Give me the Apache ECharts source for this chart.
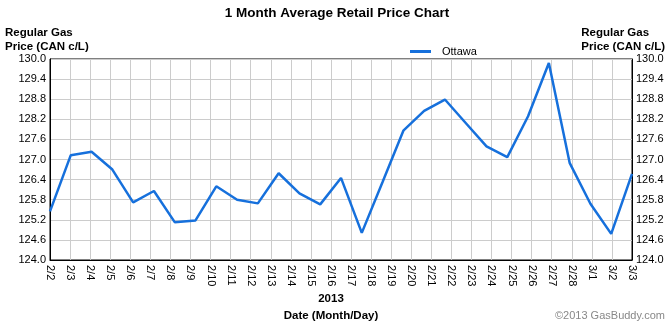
<!DOCTYPE html>
<html>
<head>
<meta charset="utf-8">
<title>1 Month Average Retail Price Chart</title>
<script src="https://cdn.jsdelivr.net/npm/echarts@6/dist/echarts.min.js"></script>
<style>
  html, body { margin: 0; padding: 0; background: #fff; }
  #chart { width: 670px; height: 325px; }
</style>
</head>
<body>
<div id="chart"></div>
<script>
// Date labels along the bottom axis (Month/Day, 2013)
const dayLabels = [
  '2/2', '2/3', '2/4', '2/5', '2/6', '2/7', '2/8', '2/9', '2/10', '2/11',
  '2/12', '2/13', '2/14', '2/15', '2/16', '2/17', '2/18', '2/19', '2/20', '2/21',
  '2/22', '2/23', '2/24', '2/25', '2/26', '2/27', '2/28', '3/1', '3/2', '3/3'
];

// Ottawa average regular gas price samples (CAN c/L), evenly spaced over the period
const ottawaPrices = [
  125.45, 127.13, 127.23, 126.70, 125.72, 126.06, 125.13, 125.18, 126.20, 125.80,
  125.69, 126.59, 125.99, 125.66, 126.45, 124.81, 126.33, 127.86, 128.45, 128.79,
  128.09, 127.39, 127.07, 128.29, 129.88, 126.90, 125.68, 124.78, 126.57
];

// Price axis range and tick step
const priceMin = 124.0;
const priceMax = 130.0;
const priceStep = 0.6;

const seriesName = 'Ottawa';
const yearLabel = '2013';

const FONT = '"Liberation Sans", Arial, sans-serif';
const LINE_BLUE = '#1670dc';

const chart = echarts.init(document.getElementById('chart'), null, { renderer: 'canvas' });

const priceAxis = (position) => ({
  type: 'value',
  position: position,
  min: priceMin,
  max: priceMax,
  interval: priceStep,
  axisLine: { show: true, lineStyle: { color: '#000', width: 1 } },
  axisTick: { show: false },
  axisLabel: {
    color: '#000',
    fontFamily: FONT,
    fontSize: 11,
    margin: 4,
    formatter: (v) => v.toFixed(1)
  },
  splitLine: { show: position === 'left', lineStyle: { color: '#cccccc', width: 1 } }
});

chart.setOption({
  backgroundColor: '#ffffff',
  animation: false,
  title: {
    text: '1 Month Average Retail Price Chart',
    left: 337,
    textAlign: 'center',
    top: 6,
    padding: 0,
    textStyle: { fontFamily: FONT, fontSize: 13.5, fontWeight: 'bold', color: '#000' }
  },
  legend: {
    data: [seriesName],
    left: 410,
    top: 46,
    padding: 0,
    icon: 'rect',
    itemWidth: 21,
    itemHeight: 3,
    itemGap: 10,
    textStyle: { fontFamily: FONT, fontSize: 11, color: '#000', padding: [0, 0, 0, 6] }
  },
  grid: {
    left: 50,
    right: 38,
    top: 59,
    bottom: 65,
    show: true,
    borderColor: '#000',
    borderWidth: 1,
    backgroundColor: 'transparent'
  },
  xAxis: [
    {
      type: 'category',
      data: dayLabels,
      boundaryGap: false,
      axisLine: { show: true, lineStyle: { color: '#000' } },
      axisTick: { show: false },
      axisLabel: {
        color: '#000',
        fontFamily: FONT,
        fontSize: 11,
        rotate: -90,
        margin: 5,
        interval: 0
      },
      splitLine: { show: true, interval: 0, lineStyle: { color: '#cccccc', width: 1 } }
    },
    {
      // Sample positions for the price line, spread across the same span
      type: 'category',
      data: ottawaPrices.map((_, i) => i),
      boundaryGap: false,
      position: 'bottom',
      show: false
    }
  ],
  yAxis: [priceAxis('left'), priceAxis('right')],
  series: [
    {
      name: seriesName,
      type: 'line',
      xAxisIndex: 1,
      yAxisIndex: 0,
      data: ottawaPrices,
      showSymbol: false,
      symbol: 'none',
      lineStyle: { color: LINE_BLUE, width: 2.5 },
      itemStyle: { color: LINE_BLUE },
      z: 5
    }
  ],
  graphic: [
    {
      type: 'text', left: 5, top: 26,
      style: { text: 'Regular Gas\nPrice (CAN c/L)', fill: '#000',
               font: 'bold 11.5px ' + FONT, lineHeight: 14 }
    },
    {
      type: 'text', right: 5, top: 26,
      style: { text: 'Regular Gas\nPrice (CAN c/L)', fill: '#000',
               font: 'bold 11.5px ' + FONT, lineHeight: 14, align: 'right' }
    },
    {
      type: 'text', x: 331, y: 299,
      style: { text: yearLabel, fill: '#000', font: 'bold 11.5px ' + FONT,
               align: 'center', verticalAlign: 'middle' }
    },
    {
      type: 'text', x: 331, y: 316,
      style: { text: 'Date (Month/Day)', fill: '#000', font: 'bold 11.5px ' + FONT,
               align: 'center', verticalAlign: 'middle' }
    },
    {
      type: 'text', x: 665, y: 316,
      style: { text: '©2013 GasBuddy.com', fill: '#888888', font: '11px ' + FONT,
               align: 'right', verticalAlign: 'middle' }
    }
  ]
});
</script>
</body>
</html>
